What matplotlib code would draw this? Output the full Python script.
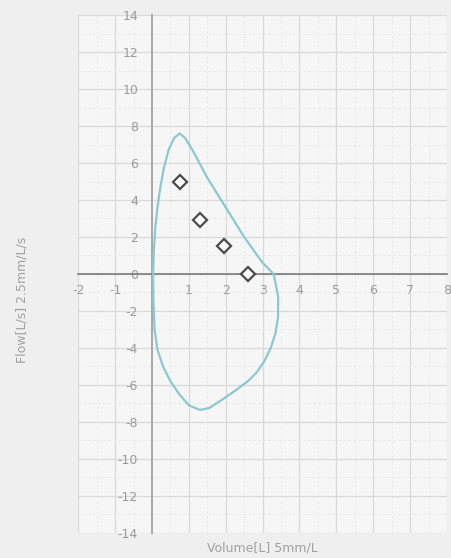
import matplotlib
matplotlib.use('Agg')
import matplotlib.pyplot as plt
from matplotlib.ticker import MultipleLocator

# flow-volume loop
loop_volume = [0.03, 0.05, 0.09, 0.15, 0.22, 0.32, 0.45, 0.6, 0.75, 0.9, 1.1, 1.5, 2.0,
               2.5, 3.0, 3.3, 3.42, 3.42, 3.35, 3.22, 3.05, 2.85, 2.6, 2.3, 1.9, 1.55,
               1.3, 1.0, 0.74, 0.5, 0.3, 0.15, 0.07, 0.04, 0.03]
loop_flow = [0.0, 1.2, 2.5, 3.6, 4.6, 5.7, 6.7, 7.35, 7.6, 7.35, 6.7, 5.2, 3.6,
             2.0, 0.6, 0.0, -1.2, -2.3, -3.2, -4.0, -4.7, -5.3, -5.8, -6.25, -6.8, -7.25,
             -7.35, -7.1, -6.5, -5.8, -5.0, -4.1, -3.0, -1.5, 0.0]

# predicted points (diamonds)
pred_volume = [0.76, 1.3, 1.95, 2.6]
pred_flow = [5.0, 2.9, 1.5, 0.0]

x_ticks = [-2, -1, 1, 2, 3, 4, 5, 6, 7, 8]
y_ticks = [-14, -12, -10, -8, -6, -4, -2, 0, 2, 4, 6, 8, 10, 12, 14]

fig = plt.figure(figsize=(4.52, 5.58), dpi=100, facecolor='#efefef')
ax = fig.add_axes([0.173, 0.045, 0.816, 0.928], facecolor='#f6f6f6')

ax.set_xlim(-2, 8)
ax.set_ylim(-14, 14)

ax.xaxis.set_minor_locator(MultipleLocator(0.5))
ax.yaxis.set_minor_locator(MultipleLocator(1))
ax.grid(True, which='major', color='#d9d9d9', linewidth=0.9)
ax.grid(True, which='minor', color='#e6e6e6', linewidth=0.6, linestyle=(0, (3, 3)))
ax.set_axisbelow(True)

ax.plot(loop_volume, loop_flow, color='#8cc8cf', linewidth=1.6, zorder=3)
ax.plot(pred_volume, pred_flow, linestyle='none', marker='D', markersize=7.5,
        markerfacecolor='white', markeredgecolor='#4a4a4a', markeredgewidth=1.6, zorder=4)

# centred axes
ax.spines['left'].set_position(('data', 0))
ax.spines['bottom'].set_position(('data', 0))
ax.spines['right'].set_visible(False)
ax.spines['top'].set_visible(False)
ax.spines['left'].set_color('#a8a8a8')
ax.spines['left'].set_linewidth(1.4)
ax.spines['bottom'].set_color('#7a7a7a')
ax.spines['bottom'].set_linewidth(1.2)

ax.set_xticks(x_ticks)
ax.set_yticks(y_ticks)
ax.set_xticklabels([str(v) for v in x_ticks])
ax.set_yticklabels([str(v) for v in y_ticks])
ax.tick_params(which='both', length=0, labelsize=9, labelcolor='#9a9a9a')
ax.tick_params(axis='y', pad=10)
ax.tick_params(axis='x', pad=7)

fig.text(22 / 452, 1 - 300 / 558, 'Flow[L/s] 2.5mm/L/s', rotation=90,
         ha='center', va='center', fontsize=9, color='#a0a0a0')
fig.text(262 / 452, 1 - 548 / 558, 'Volume[L] 5mm/L', ha='center', va='center',
         fontsize=9, color='#a0a0a0')

fig.savefig('out.png', dpi=100, facecolor=fig.get_facecolor())
